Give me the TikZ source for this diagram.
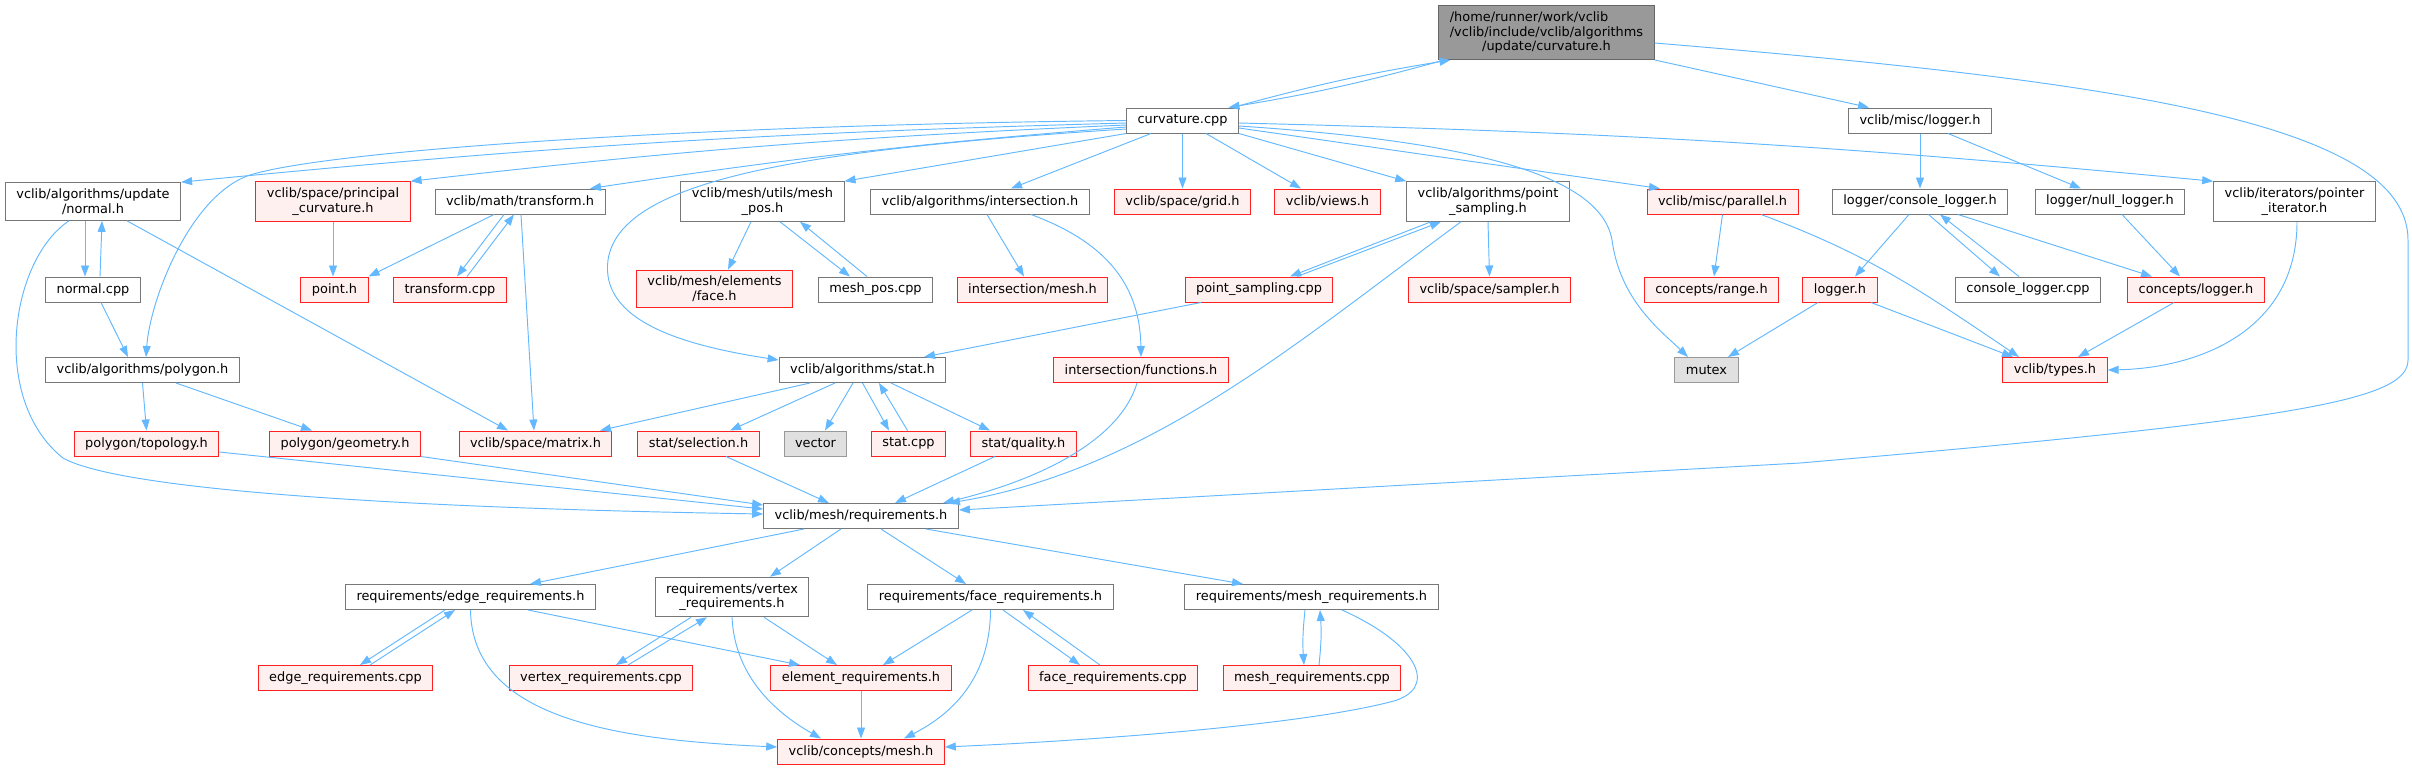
\documentclass[tikz,border=0pt]{standalone}
\usepackage{fontspec}
\setmainfont{DejaVu Sans}
\usetikzlibrary{arrows.meta}

\definecolor{edgeblue}{HTML}{63B8FF}
\definecolor{docgray}{HTML}{777777}
\definecolor{extred}{HTML}{FF2020}
\definecolor{extpink}{HTML}{FFF0F0}
\definecolor{sysline}{HTML}{999999}
\definecolor{sysfill}{HTML}{E0E0E0}
\definecolor{curline}{HTML}{666666}
\definecolor{curfill}{HTML}{999999}

\begin{document}
\begin{tikzpicture}[x=1pt, y=-1pt,
  every node/.style={font=\fontsize{12.9}{14.7}\selectfont, align=center,
    inner xsep=11pt, inner ysep=6pt, minimum height=25pt, line width=1pt},
  hdr/.style={draw=docgray, fill=white},
  ext/.style={draw=extred, fill=extpink},
  sys/.style={draw=sysline, fill=sysfill},
  cur/.style={draw=curline, fill=curfill},
  dep/.style={draw=edgeblue, line width=0.95pt, -{Triangle[length=11pt,width=8pt]}}]
\useasboundingbox (0,0) rectangle (2412,769);
%\draw[help lines, step=100] (0,0) grid (2412,769);

% top rows
\node[cur] (root) at (1546.5,32.5) {\rlap{/home/runner/work/vclib}\phantom{/vclib/include/vclib/algorithms}\\/vclib/include/vclib/algorithms\\/update/curvature.h};
\node[hdr] (cpp) at (1182.5,120.5) {curvature.cpp};
\node[hdr] (misclogger) at (1920,120.5) {vclib/misc/logger.h};

\node[hdr] (normalh) at (93,201.5) {vclib/algorithms/update\\/normal.h};
\node[ext] (princ) at (333,201.5) {vclib/space/principal\\\_curvature.h};
\node[hdr] (transformh) at (520,201.5) {vclib/math/transform.h};
\node[hdr] (meshposh) at (762.5,201.5) {vclib/mesh/utils/mesh\\\_pos.h};
\node[hdr] (interh) at (980,201.5) {vclib/algorithms/intersection.h};
\node[ext] (grid) at (1182.5,201.5) {vclib/space/grid.h};
\node[ext] (views) at (1327.5,201.5) {vclib/views.h};
\node[hdr] (psh) at (1488,201.5) {vclib/algorithms/point\\\_sampling.h};
\node[ext] (parallel) at (1722.5,201.5) {vclib/misc/parallel.h};
\node[hdr] (conlogh) at (1920,201.5) {logger/console\_logger.h};
\node[hdr] (nulllog) at (2110,201.5) {logger/null\_logger.h};
\node[hdr] (ptriter) at (2294.5,201.5) {vclib/iterators/pointer\\\_iterator.h};

\node[hdr] (normalcpp) at (93,289.5) {normal.cpp};
\node[ext] (pointh) at (334.5,289.5) {point.h};
\node[ext] (transcpp) at (450,289.5) {transform.cpp};
\node[ext] (faceh) at (714.5,289) {vclib/mesh/elements\\/face.h};
\node[hdr] (meshposcpp) at (875.5,289.5) {mesh\_pos.cpp};
\node[ext] (intermesh) at (1032.5,289.5) {intersection/mesh.h};
\node[ext] (pscpp) at (1259,289.5) {point\_sampling.cpp};
\node[ext] (sampler) at (1489.5,289.5) {vclib/space/sampler.h};
\node[ext] (range) at (1711.5,289.5) {concepts/range.h};
\node[ext] (loggerh) at (1840,289.5) {logger.h};
\node[hdr] (conlogcpp) at (2028,289.5) {console\_logger.cpp};
\node[ext] (conceptlog) at (2196,289.5) {concepts/logger.h};

\node[hdr] (polygon) at (142.5,370) {vclib/algorithms/polygon.h};
\node[hdr] (stath) at (862.5,370) {vclib/algorithms/stat.h};
\node[ext] (functions) at (1141,370) {intersection/functions.h};
\node[sys] (mutex) at (1706.5,370) {mutex};
\node[ext] (types) at (2055,370) {vclib/types.h};

\node[ext] (topology) at (146.5,443.5) {polygon/topology.h};
\node[ext] (geometry) at (345,443.5) {polygon/geometry.h};
\node[ext] (matrix) at (535.5,443.5) {vclib/space/matrix.h};
\node[ext] (selection) at (698.5,443.5) {stat/selection.h};
\node[sys] (vector) at (815.5,443.5) {vector};
\node[ext] (statcpp) at (908.5,443.5) {stat.cpp};
\node[ext] (quality) at (1023.5,443.5) {stat/quality.h};

% requirements part
\node[hdr] (req) at (861,516) {vclib/mesh/requirements.h};

\node[hdr] (edgereq) at (470.5,597) {requirements/edge\_requirements.h};
\node[hdr] (vertreq) at (732,597) {requirements/vertex\\\_requirements.h};
\node[hdr] (facereq) at (990.5,597) {requirements/face\_requirements.h};
\node[hdr] (meshreq) at (1311.5,597) {requirements/mesh\_requirements.h};

\node[ext] (edgecpp) at (345.5,678) {edge\_requirements.cpp};
\node[ext] (vertcpp) at (601,678) {vertex\_requirements.cpp};
\node[ext] (elemreq) at (861,678) {element\_requirements.h};
\node[ext] (facecpp) at (1113,678) {face\_requirements.cpp};
\node[ext] (meshcpp) at (1312,678) {mesh\_requirements.cpp};

\node[ext] (conceptsmesh) at (861,751.5) {vclib/concepts/mesh.h};

% header
\draw[dep] ([xshift=-102pt]root.south) to[bend left=3] ([xshift=46pt]cpp.north);
\draw[dep] ([xshift=50pt]cpp.north) to[bend left=3] ([xshift=-96pt]root.south);
\draw[dep] (root.south east) -- ([xshift=-51pt]misclogger.north);
\draw[dep] ([yshift=-10.5pt]root.east) .. controls (2100,80) and (2408,120) .. (2408,240) -- (2408,360) .. controls (2408,400) and (2300,420) .. (1800,463) -- ([yshift=6pt]req.east);

% curvature.cpp
\draw[dep] (cpp.west) .. controls (700,125) and (330,150) .. (250,175) .. controls (190,195) and (150,300) .. ([xshift=3.5pt]polygon.north);
\draw[dep] ([yshift=-2.5pt]cpp.west) to[bend right=2] (normalh.north east);
\draw[dep] ([yshift=-4.5pt]cpp.west) to[bend right=2] (princ.north east);
\draw[dep] ([yshift=-6.5pt]cpp.west) to[bend right=2] ([xshift=70pt]transformh.north);
\draw[dep] ([yshift=-8.5pt]cpp.west) .. controls (800,150) and (620,180) .. (608,260) .. controls (600,320) and (680,345) .. ([yshift=10pt]stath.west);
\draw[dep] (cpp.south west) -- (meshposh.north east);
\draw[dep] ([xshift=-31.5pt]cpp.south) -- ([xshift=31pt]interh.north);
\draw[dep] (cpp.south) -- (grid.north);
\draw[dep] ([xshift=23.5pt]cpp.south) -- ([xshift=-26.5pt]views.north);
\draw[dep] (cpp.south east) -- (psh.north west);
\draw[dep] ([yshift=-5.5pt]cpp.east) .. controls (1450,140) and (1600,170) .. (1612,240) .. controls (1620,300) and (1660,330) .. ([xshift=-18.5pt]mutex.north);
\draw[dep] ([yshift=-7.5pt]cpp.east) -- ([xshift=-62.5pt]parallel.north);
\draw[dep] ([yshift=-2.5pt]cpp.east) to[bend left=2] (ptriter.north west);

% normal.h
\draw[dep] ([xshift=-8pt]normalh.south) -- ([xshift=-8pt]normalcpp.north);
\draw[dep] ([xshift=7pt]normalcpp.north) -- ([xshift=9pt]normalh.south);
\draw[dep] ([xshift=34pt]normalh.south) -- ([xshift=-27.5pt]matrix.north);
\draw[dep] ([xshift=-24pt]normalh.south) .. controls (10,260) and (-10,400) .. (63,458) .. controls (120,490) and (400,508) .. ([yshift=2pt]req.west);
\draw[dep] ([xshift=8pt]normalcpp.south) -- ([xshift=-14.5pt]polygon.north);
\draw[dep] (princ.south) -- ([xshift=-1.5pt]pointh.north);

% transform.h
\draw[dep] ([xshift=-26pt]transformh.south) -- (pointh.north east);
\draw[dep] ([xshift=-16pt]transformh.south) -- ([xshift=7pt]transcpp.north);
\draw[dep] ([xshift=17pt]transcpp.north) -- ([xshift=-6pt]transformh.south);
\draw[dep] ([xshift=1pt]transformh.south) -- ([xshift=-1.5pt]matrix.north);

% mesh_pos.h, intersection.h
\draw[dep] ([xshift=-11.5pt]meshposh.south) -- ([xshift=13.5pt]faceh.north);
\draw[dep] ([xshift=17.5pt]meshposh.south) -- ([xshift=-25.5pt]meshposcpp.north);
\draw[dep] ([xshift=-8.5pt]meshposcpp.north) -- ([xshift=37.5pt]meshposh.south);
\draw[dep] ([xshift=7pt]interh.south) -- ([xshift=-8.5pt]intermesh.north);
\draw[dep] ([xshift=51pt]interh.south) .. controls (1100,240) and (1140,280) .. (functions.north);

% point_sampling.h
\draw[dep] ([xshift=-57pt]psh.south) -- ([xshift=31pt]pscpp.north);
\draw[dep] ([xshift=38pt]pscpp.north) -- ([xshift=-47pt]psh.south);
\draw[dep] (psh.south) -- (sampler.north);
\draw[dep] ([xshift=-27pt]psh.south) .. controls (1300,340) and (1150,470) .. ([xshift=88pt]req.north);
\draw[dep] ([xshift=-58pt]pscpp.south) -- ([xshift=61.5pt]stath.north);
\draw[dep] ([xshift=-4pt]functions.south) .. controls (1120,440) and (1040,480) .. ([xshift=82pt]req.north);

% parallel.h, loggers
\draw[dep] (parallel.south) -- ([xshift=2.5pt]range.north);
\draw[dep] ([xshift=38.5pt]parallel.south) .. controls (1870,255) and (1920,290) .. ([xshift=-36pt]types.north);
\draw[dep] (misclogger.south) -- (conlogh.north);
\draw[dep] ([xshift=28pt]misclogger.south) -- ([xshift=-29pt]nulllog.north);
\draw[dep] ([xshift=-11pt]conlogh.south) -- ([xshift=15pt]loggerh.north);
\draw[dep] ([xshift=8.5pt]conlogh.south) -- ([xshift=-28pt]conlogcpp.north);
\draw[dep] ([xshift=-9pt]conlogcpp.north) -- ([xshift=20pt]conlogh.south);
\draw[dep] ([xshift=38pt]conlogh.south) -- ([xshift=-44pt]conceptlog.north);
\draw[dep] ([xshift=12pt]nulllog.south) -- ([xshift=-16pt]conceptlog.north);
\draw[dep] ([xshift=2.5pt]ptriter.south) .. controls (2297,330) and (2200,368) .. (types.east);
\draw[dep] ([xshift=-22pt]loggerh.south) -- ([xshift=21.5pt]mutex.north);
\draw[dep] ([xshift=31pt]loggerh.south) -- ([xshift=-42pt]types.north);
\draw[dep] ([xshift=-22pt]conceptlog.south) -- ([xshift=23pt]types.north);

% stat.h, polygon.h
\draw[dep] ([xshift=-52.5pt]stath.south) -- ([xshift=64.5pt]matrix.north);
\draw[dep] ([xshift=-27.5pt]stath.south) -- ([xshift=31.5pt]selection.north);
\draw[dep] ([xshift=-9.5pt]stath.south) -- ([xshift=9.5pt]vector.north);
\draw[dep] (stath.south) -- ([xshift=-19.5pt]statcpp.north);
\draw[dep] ([xshift=-1pt]statcpp.north) -- ([xshift=16.5pt]stath.south);
\draw[dep] ([xshift=28.5pt]stath.south) -- ([xshift=-33.5pt]quality.north);
\draw[dep] (polygon.south) -- (topology.north);
\draw[dep] ([xshift=33.5pt]polygon.south) -- ([xshift=-33pt]geometry.north);
\draw[dep] ([yshift=-8.5pt]topology.east) -- ([yshift=7pt]req.west);
\draw[dep] (geometry.south east) -- ([yshift=11pt]req.west);
\draw[dep] ([xshift=27.5pt]selection.south) -- ([xshift=-32pt]req.north);
\draw[dep] ([xshift=-28.5pt]quality.south) -- ([xshift=34pt]req.north);

% requirements.h
\draw[dep] ([xshift=-57pt]req.south) -- ([xshift=59.5pt]edgereq.north);
\draw[dep] ([xshift=-20pt]req.south) -- ([xshift=38pt]vertreq.north);
\draw[dep] ([xshift=20pt]req.south) -- ([xshift=-24.5pt]facereq.north);
\draw[dep] ([xshift=65pt]req.south) -- ([xshift=-68.5pt]meshreq.north);

\draw[dep] ([xshift=-25.5pt]edgereq.south) -- ([xshift=14.5pt]edgecpp.north);
\draw[dep] ([xshift=24.5pt]edgecpp.north) -- ([xshift=-15.5pt]edgereq.south);
\draw[dep] ([xshift=57.5pt]edgereq.south) -- ([xshift=-61pt]elemreq.north);
\draw[dep] (edgereq.south) .. controls (472,720) and (620,740) .. ([yshift=4.5pt]conceptsmesh.west);

\draw[dep] ([xshift=-41pt]vertreq.south) -- ([xshift=15pt]vertcpp.north);
\draw[dep] ([xshift=27pt]vertcpp.north) -- ([xshift=-25pt]vertreq.south);
\draw[dep] ([xshift=32pt]vertreq.south) -- ([xshift=-24pt]elemreq.north);
\draw[dep] (vertreq.south) .. controls (735,680) and (780,715) .. ([xshift=-40pt]conceptsmesh.north);

\draw[dep] ([xshift=-18.5pt]facereq.south) -- ([xshift=22pt]elemreq.north);
\draw[dep] (facereq.south) .. controls (990,680) and (950,715) .. ([xshift=43pt]conceptsmesh.north);
\draw[dep] ([xshift=12.5pt]facereq.south) -- ([xshift=-33pt]facecpp.north);
\draw[dep] ([xshift=-13pt]facecpp.north) -- ([xshift=32.5pt]facereq.south);
\draw[dep] (elemreq.south) -- (conceptsmesh.north);

\draw[dep] ([xshift=-6.5pt]meshreq.south) to[bend right=5] ([xshift=-8pt]meshcpp.north);
\draw[dep] ([xshift=7pt]meshcpp.north) to[bend right=5] ([xshift=8.5pt]meshreq.south);
\draw[dep] ([xshift=30.5pt]meshreq.south) .. controls (1420,645) and (1440,690) .. (1390,702) .. controls (1300,725) and (1100,740) .. ([yshift=4.5pt]conceptsmesh.east);

\end{tikzpicture}
\end{document}
